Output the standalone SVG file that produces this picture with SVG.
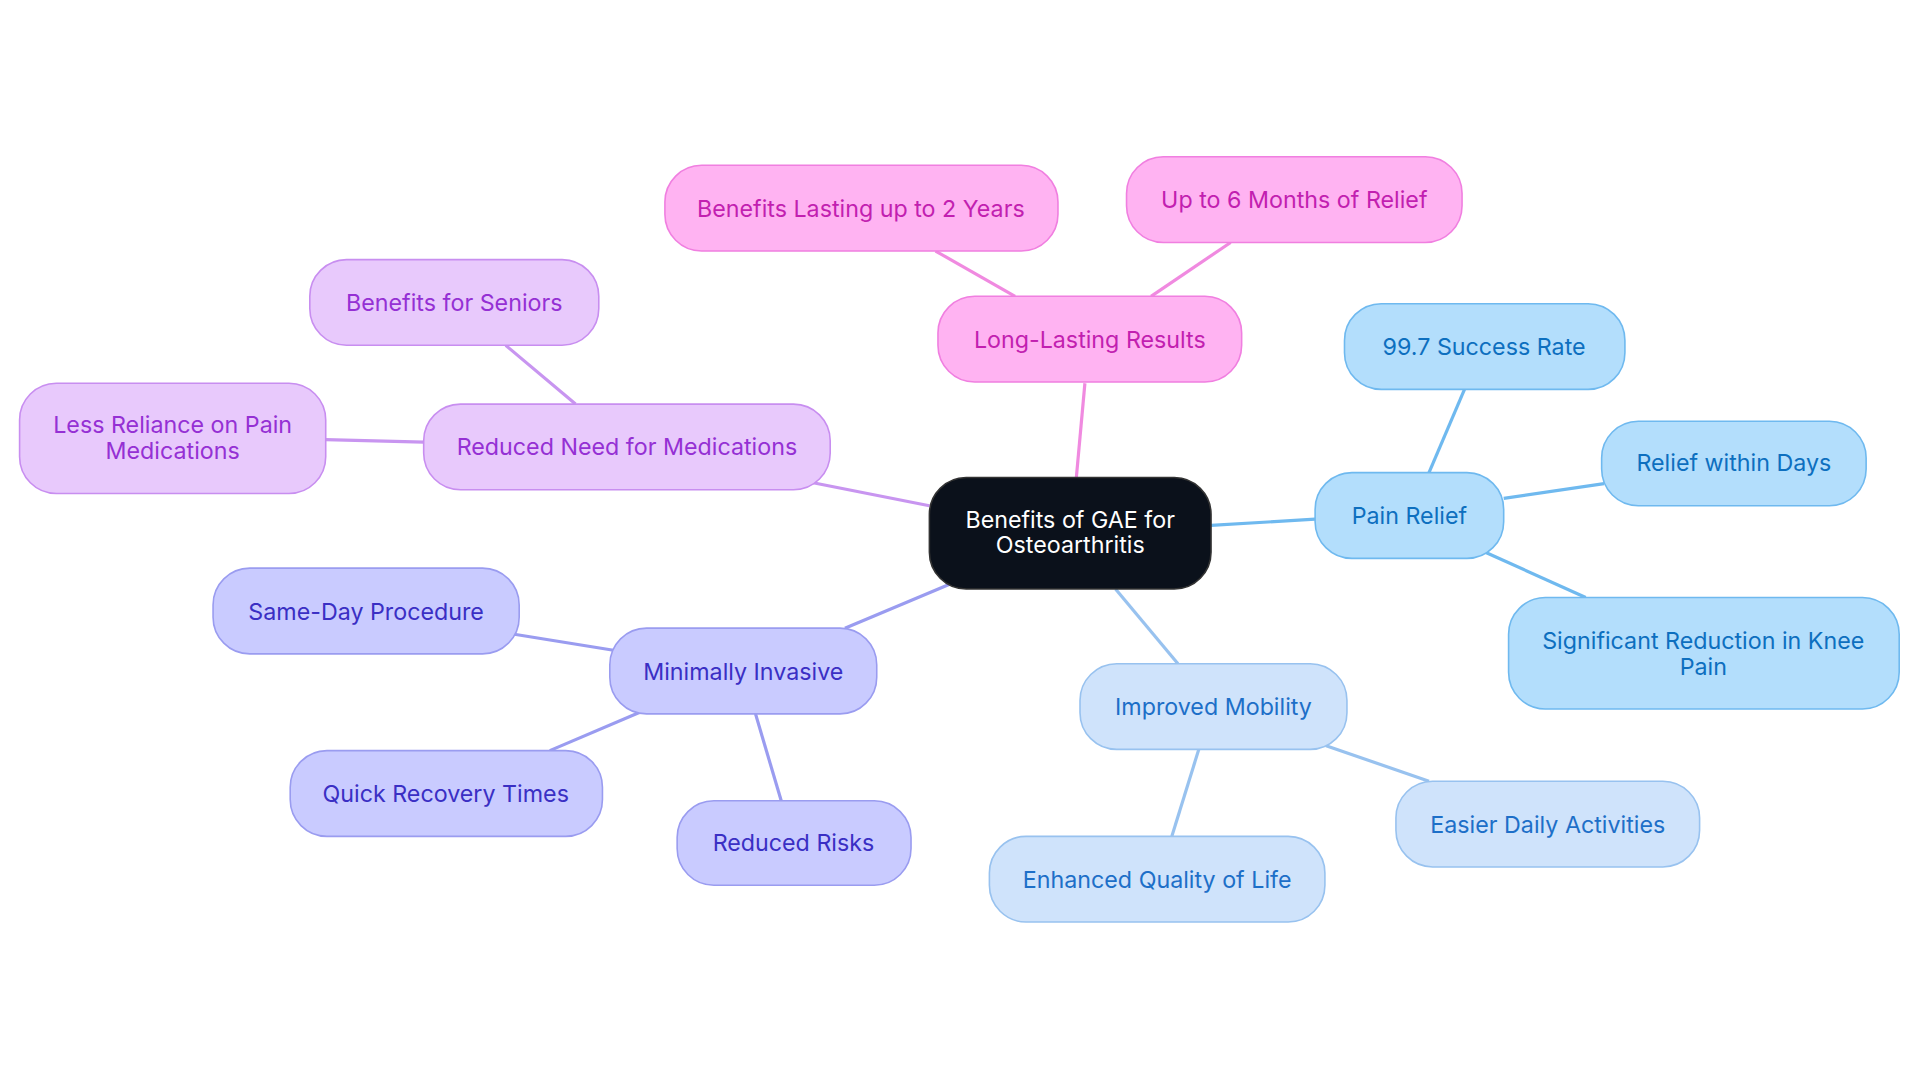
<svg xmlns="http://www.w3.org/2000/svg" width="1920" height="1083" viewBox="0 0 1920 1083">
<style>
text{font-family:Inter,"Noto Sans",sans-serif;font-size:19px;text-anchor:middle;dominant-baseline:central}
rect{stroke-width:1.3}
.pk rect{fill:#ffb3f2;stroke:#f07fe0}.pk text{fill:#c21fb0}
.pu rect{fill:#e8c9fc;stroke:#c88ef0}.pu text{fill:#9530d4}
.in rect{fill:#c9cbff;stroke:#9a9cf0}.in text{fill:#3a2fc4}
.lb rect{fill:#cfe3fb;stroke:#98c2ef}.lb text{fill:#1d6fc8}
.sb rect{fill:#b3defc;stroke:#6fb9ef}.sb text{fill:#0d6fbf}
#connectors line{stroke-width:2.6;fill:none}
</style>
<rect width="1920" height="1083" fill="#fff"/>
<g transform="scale(1.2245)">
<g id="connectors">
<g stroke="#f08ae0"><line x1="879" y1="390" x2="886" y2="313"/><line x1="829" y1="242" x2="764" y2="205"/><line x1="940" y1="242" x2="1005" y2="198"/></g>
<g stroke="#c895f0"><line x1="759" y1="413" x2="663" y2="394"/><line x1="470" y1="330" x2="413" y2="282"/><line x1="346" y1="361" x2="266" y2="359"/></g>
<g stroke="#9a9cf0"><line x1="776" y1="477" x2="690" y2="513"/><line x1="501" y1="531" x2="420" y2="518"/><line x1="524" y1="581" x2="449" y2="613"/><line x1="617" y1="583" x2="638" y2="654"/></g>
<g stroke="#98c2ef"><line x1="911" y1="481" x2="962" y2="542"/><line x1="979" y1="612" x2="957" y2="683"/><line x1="1083" y1="609" x2="1167" y2="638"/></g>
<g stroke="#6fb9ef"><line x1="989" y1="429" x2="1074" y2="424"/><line x1="1167" y1="386" x2="1196" y2="318"/><line x1="1228" y1="407" x2="1310" y2="395"/><line x1="1213" y1="451" x2="1295" y2="488"/></g>
</g>
<g id="center"><rect x="759" y="390" width="230" height="91" rx="30" fill="#0b111b" stroke="#333"/><text x="874" y="424" fill="#fff">Benefits of GAE for</text><text x="874" y="445" fill="#fff">Osteoarthritis</text></g>
<g id="llr" class="pk"><rect x="766" y="242" width="248" height="70" rx="30"/><text x="890" y="277">Long-Lasting Results</text></g>
<g id="b2y" class="pk"><rect x="543" y="135" width="321" height="70" rx="30"/><text x="703" y="170">Benefits Lasting up to 2 Years</text></g>
<g id="m6" class="pk"><rect x="920" y="128" width="274" height="70" rx="30"/><text x="1057" y="163">Up to 6 Months of Relief</text></g>
<g id="rnm" class="pu"><rect x="346" y="330" width="332" height="70" rx="30"/><text x="512" y="365">Reduced Need for Medications</text></g>
<g id="bs" class="pu"><rect x="253" y="212" width="236" height="70" rx="30"/><text x="371" y="247">Benefits for Seniors</text></g>
<g id="lr" class="pu"><rect x="16" y="313" width="250" height="90" rx="30"/><text x="141" y="347">Less Reliance on Pain</text><text x="141" y="368">Medications</text></g>
<g id="mi" class="in"><rect x="498" y="513" width="218" height="70" rx="30"/><text x="607" y="548">Minimally Invasive</text></g>
<g id="sd" class="in"><rect x="174" y="464" width="250" height="70" rx="30"/><text x="299" y="499">Same-Day Procedure</text></g>
<g id="qr" class="in"><rect x="237" y="613" width="255" height="70" rx="30"/><text x="364" y="648">Quick Recovery Times</text></g>
<g id="rr" class="in"><rect x="553" y="654" width="191" height="69" rx="30"/><text x="648" y="688">Reduced Risks</text></g>
<g id="im" class="lb"><rect x="882" y="542" width="218" height="70" rx="30"/><text x="991" y="577">Improved Mobility</text></g>
<g id="eq" class="lb"><rect x="808" y="683" width="274" height="70" rx="30"/><text x="945" y="718">Enhanced Quality of Life</text></g>
<g id="ed" class="lb"><rect x="1140" y="638" width="248" height="70" rx="30"/><text x="1264" y="673">Easier Daily Activities</text></g>
<g id="pr" class="sb"><rect x="1074" y="386" width="154" height="70" rx="30"/><text x="1151" y="421">Pain Relief</text></g>
<g id="sr" class="sb"><rect x="1098" y="248" width="229" height="70" rx="30"/><text x="1212" y="283">99.7 Success Rate</text></g>
<g id="rd" class="sb"><rect x="1308" y="344" width="216" height="69" rx="30"/><text x="1416" y="378">Relief within Days</text></g>
<g id="sk" class="sb"><rect x="1232" y="488" width="319" height="91" rx="30"/><text x="1391" y="523">Significant Reduction in Knee</text><text x="1391" y="544">Pain</text></g>
</g>
</svg>
